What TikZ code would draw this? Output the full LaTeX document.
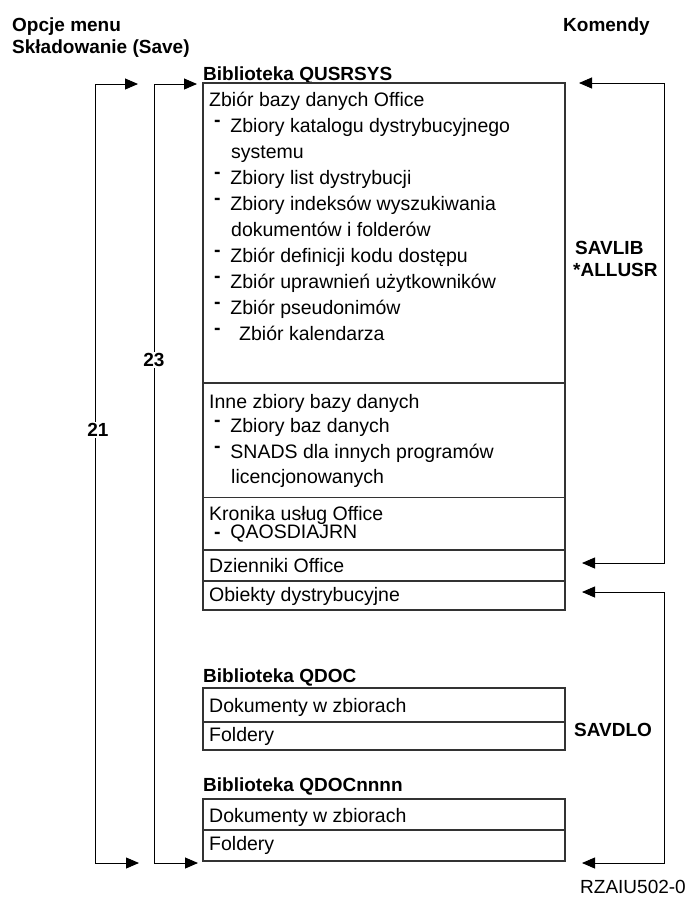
\documentclass[tikz,border=0pt]{standalone}
\usepackage{fontspec}
\setmainfont{Liberation Sans}
\usetikzlibrary{arrows.meta}

\newcommand{\pkt}{\raisebox{0.3em}{\textbf{-}}\hspace{0.5em}}
\newcommand{\rozm}{\fontsize{19}{23}\selectfont}

\tikzset{
  txt/.style={anchor=west,inner sep=0pt,text height=13.5pt,text depth=4pt,
    font=\fontsize{19.5}{23}\selectfont},
  hdr/.style={txt,font=\rozm\bfseries},
  frame/.style={draw=black!80,line width=1.1pt},
  link/.style={draw=black,line width=0.9pt,
    {Triangle[length=13pt,width=11pt]}-{Triangle[length=13pt,width=11pt]}},
  num/.style={fill=white,inner sep=1.5pt,font=\rozm\bfseries}
}

\begin{document}
\begin{tikzpicture}[x=1pt,y=-1pt,font=\rozm]
\useasboundingbox (0,0) rectangle (689,903);
% ---------- naglowki kolumn ----------
\node[hdr] (opcje) at (12,27) {Opcje menu};
\node[hdr] (sklad) at (12,49) {Składowanie (Save)};
\node[hdr] (komendy) at (563,27) {Komendy};
% ---------- Biblioteka QUSRSYS ----------
\node[hdr] (qusrsys) at (203,76) {Biblioteka QUSRSYS};
\draw[frame] (203,83) rectangle (565,610);
\foreach \y in {383,497.5,550,581}
  \draw[frame] (203,\y) -- (565,\y);
\node[txt] (zbo) at (209,102) {Zbiór bazy danych Office};
\node[txt] (kat) at (214,128) {\pkt Zbiory katalogu dystrybucyjnego};
\node[txt] (katb) at (231,154) {systemu};
\node[txt] (list) at (214,180) {\pkt Zbiory list dystrybucji};
\node[txt] (idx) at (214,206) {\pkt Zbiory indeksów wyszukiwania};
\node[txt] (idxb) at (231,232) {dokumentów i folderów};
\node[txt] (kod) at (214,258) {\pkt Zbiór definicji kodu dostępu};
\node[txt] (upr) at (214,284) {\pkt Zbiór uprawnień użytkowników};
\node[txt] (pseu) at (214,310) {\pkt Zbiór pseudonimów};
\node[txt] (kal) at (214,336) {\pkt\hspace{0.45em}Zbiór kalendarza};
\node[txt] (inne) at (209,404) {Inne zbiory bazy danych};
\node[txt] (baz) at (214,428) {\pkt Zbiory baz danych};
\node[txt] (snads) at (214,454) {\pkt SNADS dla innych programów};
\node[txt] (snadsb) at (231,479) {licencjonowanych};
\node[txt] (kron) at (209,516) {Kronika usług Office};
\node[txt] (qaos) at (214,534) {\textbf{-}\hspace{0.5em}QAOSDIAJRN};
\node[txt] (dzien) at (209,568) {Dzienniki Office};
\node[txt] (obiekt) at (209,597) {Obiekty dystrybucyjne};
% ---------- Biblioteka QDOC ----------
\node[hdr] (qdoc) at (203,678) {Biblioteka QDOC};
\draw[frame] (203,688) rectangle (565,750);
\draw[frame] (203,722) -- (565,722);
\node[txt] (dok1) at (209,708) {Dokumenty w zbiorach};
\node[txt] (fold1) at (209,737) {Foldery};
% ---------- Biblioteka QDOCnnnn ----------
\node[hdr] (qdocn) at (203,787) {Biblioteka QDOCnnnn};
\draw[frame] (203,799) rectangle (565,861);
\draw[frame] (203,830) -- (565,830);
\node[txt] (dok2) at (209,818) {Dokumenty w zbiorach};
\node[txt] (fold2) at (209,846) {Foldery};
% ---------- opcje 21 i 23 ----------
\coordinate (rail21) at (95,0);
\coordinate (rail23) at (154,0);
\coordinate (t21) at (138,84);
\coordinate (b21) at (139,863);
\coordinate (t23) at (197,84);
\coordinate (b23) at (198,863);
\draw[link] (t21) -- (t21 -| rail21) -- (b21 -| rail21) -- (b21);
\draw[link] (t23) -- (t23 -| rail23) -- (b23 -| rail23) -- (b23);
\node[num] (n21) at (98,430) {21};
\node[num] (n23) at (154,360) {23};
% ---------- komendy SAVLIB / SAVDLO ----------
\coordinate (railk) at (664,0);
\coordinate (libT) at (579,83);
\coordinate (libB) at (582,563);
\coordinate (dloT) at (582,592);
\coordinate (dloB) at (582,863);
\draw[link] (libT) -- (libT -| railk) -- (libB -| railk) -- (libB);
\draw[link] (dloT) -- (dloT -| railk) -- (dloB -| railk) -- (dloB);
\node[hdr] (savlib) at (575,250) {SAVLIB};
\node[hdr] (allusr) at (573,272) {*ALLUSR};
\node[hdr] (savdlo) at (574,732) {SAVDLO};
\node[txt,font=\rozm] (rza) at (580,889) {RZAIU502-0};
\end{tikzpicture}
\end{document}
